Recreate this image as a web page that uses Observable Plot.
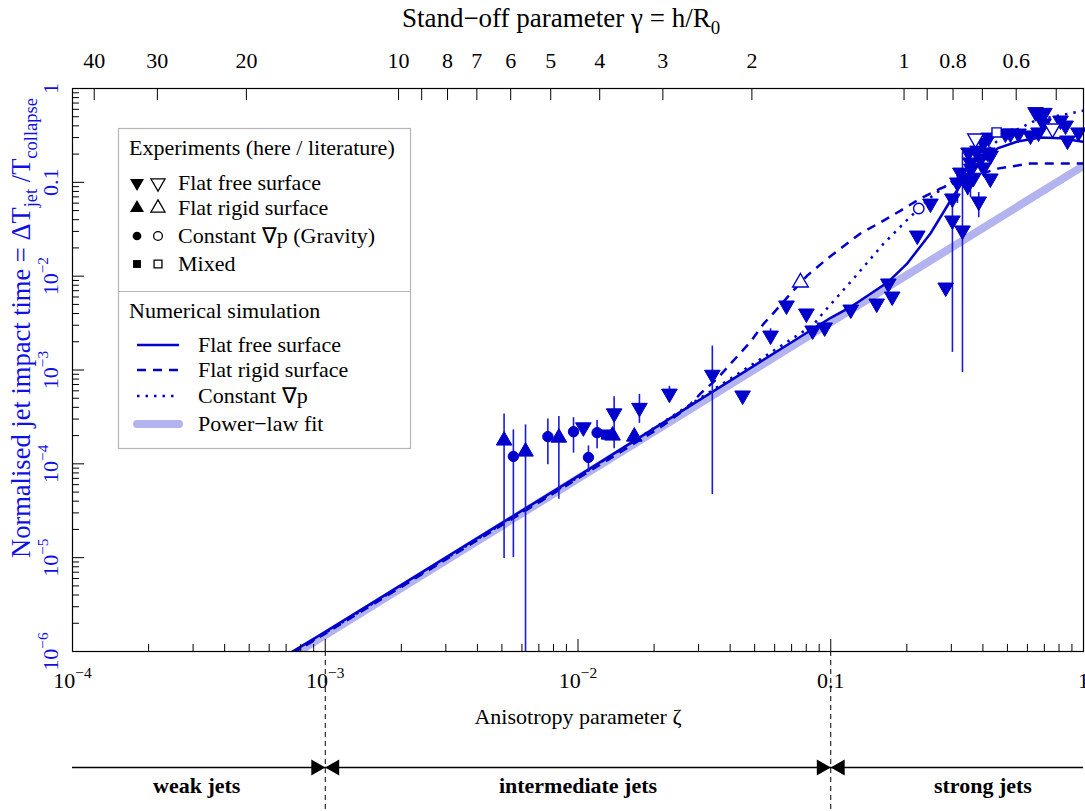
<!DOCTYPE html>
<html><head><meta charset="utf-8">
<script src="https://cdn.jsdelivr.net/npm/d3@7"></script>
<script src="https://cdn.jsdelivr.net/npm/@observablehq/plot@0.6"></script>
<style>
html,body{margin:0;padding:0;background:#fff;}
#chart{width:1085px;height:811px;}
</style></head><body><div id="chart"></div>
<script>
// ---------- data ----------
const fitZeta = [6.0e-4, 1];
const fitTime = [6.4e-7, 0.15];

const simFreeZeta = [7.2e-4, 1e-3, 1e-2, 0.05, 0.1, 0.12, 0.168, 0.2, 0.248, 0.298, 0.335, 0.402, 0.457, 0.548, 0.676, 0.811, 1];
const simFreeTime = [9.5e-7, 1.62e-6, 7.4e-5, 1.12e-3, 3.6e-3, 4.7e-3, 8.6e-3, 1.35e-2, 2.85e-2, 6.4e-2, 0.105, 0.171, 0.23, 0.272, 0.30, 0.295, 0.27];

const simRigidZeta = [7.4e-4, 1e-3, 1e-2, 0.0212, 0.0271, 0.0305, 0.0356, 0.0412, 0.0482, 0.0542, 0.0615, 0.0693, 0.0809, 0.097, 0.131, 0.157, 0.189, 0.226, 0.272, 0.326, 0.457, 0.617, 1];
const simRigidTime = [9.5e-7, 1.55e-6, 7.0e-5, 2.45e-4, 3.98e-4, 5.6e-4, 8.1e-4, 1.26e-3, 2.0e-3, 3.1e-3, 4.5e-3, 6.5e-3, 1.02e-2, 1.54e-2, 2.85e-2, 3.73e-2, 5.0e-2, 6.7e-2, 8.6e-2, 0.105, 0.14, 0.159, 0.159];

const simGradZeta = [7.3e-4, 1e-3, 1e-2, 0.085, 0.0936, 0.123, 0.162, 0.203, 0.248, 0.298, 0.36, 0.47, 0.65, 1];
const simGradTime = [9.5e-7, 1.58e-6, 7.2e-5, 3.0e-3, 4.1e-3, 9.4e-3, 2.23e-2, 4.1e-2, 6.9e-2, 0.10, 0.15, 0.30, 0.46, 0.58];

const expZeta = [5.1e-3, 5.55e-3, 6.2e-3, 7.6e-3, 8.4e-3, 9.6e-3, 1.05e-2, 1.1e-2, 1.19e-2, 1.29e-2, 1.37e-2, 1.39e-2, 1.67e-2, 1.75e-2, 2.3e-2, 3.4e-2, 4.48e-2, 5.78e-2, 6.68e-2, 7.59e-2, 8.01e-2, 8.48e-2, 9.46e-2, 0.12, 0.152, 0.169, 0.175, 0.22, 0.223, 0.248, 0.285, 0.303, 0.303, 0.332, 0.385, 0.428,
  0.402, 0.421, 0.381, 0.417, 0.391, 0.429, 0.351, 0.357, 0.402, 0.326, 0.341, 0.367, 0.317, 0.348, 0.36,
  0.514, 0.553, 0.617, 0.676, 0.695, 0.664, 0.811, 0.849, 0.864, 0.955, 0.646, 0.70, 0.491,
  0.374, 0.754, 0.453];
const expTime = [1.77e-4, 1.2e-4, 1.35e-4, 1.95e-4, 1.9e-4, 2.2e-4, 2.45e-4, 1.17e-4, 2.15e-4, 2.05e-4, 2.0e-4, 3.45e-4, 1.95e-4, 3.95e-4, 5.6e-4, 8.9e-4, 5.35e-4, 2.33e-3, 4.87e-3, 8.56e-3, 4.0e-3, 2.64e-3, 2.84e-3, 4.41e-3, 5.11e-3, 8.36e-3, 6.07e-3, 2.71e-2, 5.26e-2, 5.94e-2, 7.57e-3, 6.73e-2, 3.92e-2, 3.07e-2, 6.25e-2, 0.110,
  0.266, 0.30, 0.218, 0.208, 0.179, 0.193, 0.208, 0.163, 0.144, 0.127, 0.110, 0.112, 0.0996, 0.0925, 0.14,
  0.331, 0.331, 0.316, 0.516, 0.424, 0.340, 0.456, 0.403, 0.279, 0.340, 0.56, 0.55, 0.331,
  0.293, 0.375, 0.34];
const expKind = ["rigid", "gravity", "rigid", "gravity", "rigid", "gravity", "free", "gravity", "gravity", "mixed", "rigid", "free", "rigid", "free", "free", "free", "free", "free", "free", "rigid", "free", "free", "free", "free", "free", "free", "free", "free", "gravity", "free", "free", "free", "free", "free", "free", "free",
  "free", "free", "free", "free", "free", "free", "free", "free", "free", "free", "free", "free", "free", "free", "free",
  "free", "free", "free", "free", "free", "free", "free", "free", "free", "free", "free", "free", "free",
  "free", "free", "mixed"];
const expSource = ["here", "here", "here", "here", "here", "here", "here", "here", "here", "here", "here", "here", "here", "here", "here", "here", "here", "here", "here", "lit", "here", "here", "here", "here", "here", "here", "here", "here", "lit", "here", "here", "here", "here", "here", "here", "here",
  "here", "here", "here", "here", "here", "here", "here", "here", "here", "here", "here", "here", "here", "here", "here",
  "here", "here", "here", "here", "here", "here", "here", "here", "here", "here", "here", "here", "here",
  "lit", "lit", "lit"];

const errZeta = [5.1e-3, 5.55e-3, 6.2e-3, 7.6e-3, 8.4e-3, 9.6e-3, 1.1e-2, 1.19e-2, 1.39e-2, 1.75e-2, 2.3e-2, 3.4e-2, 5.78e-2, 0.303, 0.332, 0.385, 0.317, 0.348, 0.357];
const errLow = [9.8e-6, 1.0e-5, 1e-6, 9.8e-5, 4.2e-5, 1.3e-4, 8.1e-5, 1.45e-4, 1.45e-4, 2.7e-4, 5.6e-4, 4.7e-5, 2.33e-3, 1.54e-3, 9.4e-4, 4.2e-2, 5.95e-2, 7.2e-2, 6.9e-2];
const errHigh = [3.4e-4, 2.3e-4, 2.6e-4, 3.0e-4, 3.2e-4, 3.1e-4, 1.55e-4, 2.9e-4, 5.2e-4, 5.5e-4, 6.7e-4, 1.8e-3, 2.75e-3, 7.2e-2, 0.21, 7.8e-2, 0.134, 0.151, 0.097];

const xLabelValues = [1e-4, 1e-3, 1e-2, 0.1, 1];
const xLabelText = ["10^{−4}", "10^{−3}", "10^{−2}", "0.1", "1"];
const yLabelValues = [1, 0.1, 1e-2, 1e-3, 1e-4, 1e-5, 1e-6];
const yLabelText = ["1", "0.1", "10^{−2}", "10^{−3}", "10^{−4}", "10^{−5}", "10^{−6}"];

const gammaTicks = [40, 30, 20, 10, 9, 8, 7, 6, 5, 4, 3, 2, 1, 0.9, 0.8, 0.7, 0.6, 0.5];
const gammaLabels = [40, 30, 20, 10, 8, 7, 6, 5, 4, 3, 2, 1, 0.8, 0.6];
const zetaGammaFactor = 0.195; // zeta = 0.195 * gamma^-2

const zoneBounds = [1e-3, 0.1];
const zoneLabelX = [3.1e-4, 1e-2, 0.4];
const zoneLabels = ["weak jets", "intermediate jets", "strong jets"];

const topTitle = "Stand−off parameter γ = h/R_{0}";
const xTitle = "Anisotropy parameter ζ";
const yTitle = "Normalised jet impact time = ΔT_{jet} /T_{collapse}";

// ---------- build ----------
const BLUE = "#0000cd";
const TXTBLUE = "#1010e6";
const W = 1085, H = 811, mT = 88, mB = 160, mL = 72, mR = 2;
const plotH = H - mT - mB, plotW = W - mL - mR;

const pairs = (zs, ts) => zs.map((z, i) => ({z, t: ts[i]}));
const fit = pairs(fitZeta, fitTime);
const simFree = pairs(simFreeZeta, simFreeTime);
const simRigid = pairs(simRigidZeta, simRigidTime);
const simGrad = pairs(simGradZeta, simGradTime);
const exp = expZeta.map((z, i) => ({z, t: expTime[i], kind: expKind[i], src: expSource[i]}));
const errs = errZeta.map((z, i) => ({z, lo: errLow[i], hi: errHigh[i]}));
const sel = (k, s) => exp.filter(d => d.kind === k && d.src === s);

const logScale = d3.scaleLog();
const xMajor = xLabelValues;
const xMinor = logScale.domain([1e-4, 1]).ticks().filter(v => !xMajor.some(m => Math.abs(m - v) / m < 1e-9));
const yMajor = yLabelValues;
const yMinor = logScale.domain([1e-6, 1]).ticks().filter(v => !yMajor.some(m => Math.abs(m - v) / m < 1e-9));
const gz = g => zetaGammaFactor / (g * g);

const symOpts = {
  free: {symbol: "triangle", rotate: 180, r: 5.8},
  rigid: {symbol: "triangle", rotate: 0, r: 5.8},
  gravity: {symbol: "circle", r: 5.2},
  mixed: {symbol: "square", r: 5.2}
};
const markerMarks = [];
for (const k of ["gravity", "mixed", "rigid", "free"]) {
  markerMarks.push(Plot.dot(sel(k, "here"), {x: "z", y: "t", ...symOpts[k], fill: BLUE, stroke: BLUE, strokeWidth: 1}));
}
for (const k of ["gravity", "mixed", "rigid", "free"]) {
  markerMarks.push(Plot.dot(sel(k, "lit"), {x: "z", y: "t", ...symOpts[k], fill: "white", stroke: BLUE, strokeWidth: 1.4}));
}
const T = {textAnchor: "middle", lineAnchor: "middle"};

const svg = Plot.plot({
  width: W, height: H,
  marginTop: mT, marginBottom: mB, marginLeft: mL, marginRight: mR,
  x: {type: "log", domain: [1e-4, 1], axis: null},
  y: {type: "log", domain: [1e-6, 1], axis: null},
  style: {fontFamily: "Liberation Serif, Times New Roman, serif", fontSize: "22px", background: "white", color: "black"},
  marks: [
    Plot.line(fit, {x: "z", y: "t", stroke: "#b3b3f0", strokeWidth: 8, clip: true}),
    Plot.line(simGrad, {x: "z", y: "t", stroke: BLUE, strokeWidth: 2.5, strokeDasharray: "2.5,6", strokeLinecap: "butt", clip: true}),
    Plot.line(simRigid, {x: "z", y: "t", stroke: BLUE, strokeWidth: 2.5, strokeDasharray: "9,7", strokeLinecap: "butt", clip: true}),
    Plot.line(simFree, {x: "z", y: "t", stroke: BLUE, strokeWidth: 2.5, clip: true}),
    Plot.ruleX(errs, {x: "z", y1: "lo", y2: "hi", stroke: "#1a1ad8", strokeWidth: 1.6}),
    ...markerMarks,
    Plot.frame({stroke: "black", strokeWidth: 1.2}),
    // inward ticks
    Plot.ruleX(xMajor, {x: d => d, insetTop: plotH - 12, stroke: "black"}),
    Plot.ruleX(xMinor, {x: d => d, insetTop: plotH - 7, stroke: "black"}),
    Plot.ruleY(yMajor, {y: d => d, insetRight: plotW - 12, stroke: "black"}),
    Plot.ruleY(yMinor, {y: d => d, insetRight: plotW - 7, stroke: "black"}),
    Plot.ruleX(gammaTicks, {x: gz, insetBottom: plotH - 12, stroke: "black"}),
    // tick labels
    Plot.text(xLabelValues, {x: d => d, text: (d, i) => xLabelText[i], frameAnchor: "bottom", ...T, dy: 29, fill: "black"}),
    Plot.text(yLabelValues, {y: d => d, text: (d, i) => yLabelText[i], frameAnchor: "left", ...T, dx: -22, rotate: -90, fill: TXTBLUE}),
    Plot.text(gammaLabels, {x: gz, text: d => String(d), frameAnchor: "top", ...T, dy: -28, fill: "black"}),
    // titles
    Plot.text([topTitle], {text: d => d, frameAnchor: "top", ...T, dx: -17, dy: -70, fill: "black", fontSize: 27}),
    Plot.text([xTitle], {text: d => d, frameAnchor: "bottom", ...T, dy: 65, fill: "black"}),
    Plot.text([yTitle], {text: d => d, frameAnchor: "left", ...T, rotate: -90, dx: -51, dy: -42, fill: TXTBLUE, fontSize: 26.5}),
    // jet regimes band
    Plot.ruleY([1e-6], {y: d => d, dy: 116, stroke: "black", strokeWidth: 1.3}),
    Plot.ruleX(zoneBounds, {x: d => d, insetTop: plotH, insetBottom: -mB, stroke: "black", strokeDasharray: "5,4"}),
    Plot.dot(zoneBounds, {x: d => d, frameAnchor: "bottom", dy: 116, dx: -9.3, symbol: "triangle", rotate: 90, r: 6, fill: "black", stroke: "none"}),
    Plot.dot(zoneBounds, {x: d => d, frameAnchor: "bottom", dy: 116, dx: 9.3, symbol: "triangle", rotate: -90, r: 6, fill: "black", stroke: "none"}),
    Plot.text(zoneLabelX, {x: d => d, text: (d, i) => zoneLabels[i], frameAnchor: "bottom", ...T, dy: 134, fontWeight: "bold", fill: "black"})
  ]
});
document.getElementById("chart").appendChild(svg);

// ---------- rich text (super/subscripts) ----------
function richify(el) {
  const s = el.textContent;
  if (!/[\^_]\{/.test(s)) return;
  while (el.firstChild) el.removeChild(el.firstChild);
  const fs = parseFloat(getComputedStyle(el).fontSize) || 22;
  const re = /([\^_])\{([^}]*)\}/g;
  let last = 0, m, off = 0;
  const ns = "http://www.w3.org/2000/svg";
  const add = (str, type) => {
    const t = document.createElementNS(ns, "tspan");
    const target = type === "^" ? -0.42 * fs : type === "_" ? 0.25 * fs : 0;
    t.setAttribute("dy", (target - off).toFixed(2));
    off = target;
    if (type) t.setAttribute("font-size", (0.7 * fs).toFixed(1));
    t.textContent = str;
    el.appendChild(t);
  };
  while ((m = re.exec(s))) {
    if (m.index > last) add(s.slice(last, m.index), null);
    add(m[2], m[1]);
    last = re.lastIndex;
  }
  if (last < s.length) add(s.slice(last), null);
}
svg.querySelectorAll("text").forEach(richify);

// ---------- legend ----------
const lg = d3.select(svg).append("g")
  .attr("font-family", "Liberation Serif, Times New Roman, serif")
  .attr("font-size", 22).attr("fill", "black").attr("text-anchor", "start");
lg.append("rect").attr("x", 118.5).attr("y", 128.5).attr("width", 292).attr("height", 320)
  .attr("fill", "white").attr("stroke", "#b5b5b5").attr("stroke-width", 1.2);
lg.append("line").attr("x1", 118.5).attr("x2", 410.5).attr("y1", 291.5).attr("y2", 291.5)
  .attr("stroke", "#b5b5b5").attr("stroke-width", 1.2);
const ltext = (x, y, s) => lg.append("text").attr("x", x).attr("y", y).attr("dy", "0.32em").attr("text-anchor", "start").text(s);
ltext(129, 148, "Experiments (here / literature)");
const legSym = {
  free: {type: d3.symbolTriangle, size: 85, rot: 180},
  rigid: {type: d3.symbolTriangle, size: 85, rot: 0},
  gravity: {type: d3.symbolCircle, size: 60, rot: 0},
  mixed: {type: d3.symbolSquare, size: 62, rot: 0}
};
const legRows = [
  {y: 183, kind: "free", label: "Flat free surface"},
  {y: 208, kind: "rigid", label: "Flat rigid surface"},
  {y: 236, kind: "gravity", label: "Constant ∇p (Gravity)"},
  {y: 264, kind: "mixed", label: "Mixed"}
];
for (const r of legRows) {
  const s = legSym[r.kind];
  const p = d3.symbol(s.type, s.size)();
  lg.append("path").attr("d", p).attr("transform", `translate(137,${r.y}) rotate(${s.rot})`).attr("fill", "black");
  lg.append("path").attr("d", p).attr("transform", `translate(158,${r.y}) rotate(${s.rot})`).attr("fill", "white").attr("stroke", "black").attr("stroke-width", 1.3);
  ltext(178, r.y, r.label);
}
ltext(129, 311, "Numerical simulation");
const legLines = [
  {y: 345, label: "Flat free surface", dash: null, w: 2.5, c: BLUE, cap: "butt"},
  {y: 370, label: "Flat rigid surface", dash: "9,7", w: 2.5, c: BLUE, cap: "butt"},
  {y: 396, label: "Constant ∇p", dash: "2.5,6", w: 2.5, c: BLUE, cap: "butt"},
  {y: 424, label: "Power−law fit", dash: null, w: 8, c: "#b3b3f0", cap: "round"}
];
for (const r of legLines) {
  const ln = lg.append("line").attr("x1", 137).attr("x2", 179).attr("y1", r.y).attr("y2", r.y)
    .attr("stroke", r.c).attr("stroke-width", r.w).attr("stroke-linecap", r.cap);
  if (r.dash) ln.attr("stroke-dasharray", r.dash);
  ltext(198, r.y, r.label);
}
</script></body></html>
